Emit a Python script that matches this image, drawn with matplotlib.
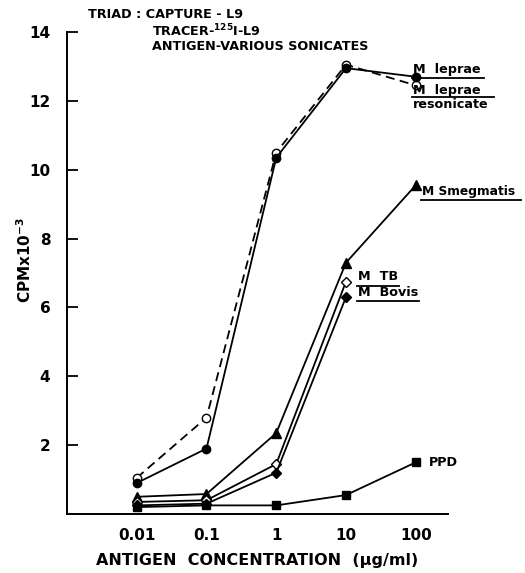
import matplotlib
matplotlib.use('Agg')
from matplotlib import pyplot as plt
from matplotlib.lines import Line2D

# antigen concentration (ug/ml)
conc = [0.01, 0.1, 1, 10, 100]
conc_tb = [0.01, 0.1, 1, 10]

leprae = [0.9, 1.9, 10.35, 12.95, 12.7]
leprae_reson = [1.05, 2.8, 10.5, 13.05, 12.45]
smegmatis = [0.5, 0.58, 2.35, 7.3, 9.55]
m_tb = [0.35, 0.4, 1.45, 6.75]
m_bovis = [0.25, 0.3, 1.2, 6.3]
ppd = [0.2, 0.25, 0.25, 0.55, 1.5]

yticks = [2, 4, 6, 8, 10, 12, 14]
xticks = [0.01, 0.1, 1, 10, 100]
xtick_labels = ['0.01', '0.1', '1', '10', '100']

W, H = 525, 573
plt.rcParams['font.family'] = ['DejaVu Sans']
plt.rcParams['font.weight'] = 'bold'
plt.rcParams['axes.labelweight'] = 'bold'

fig = plt.figure(figsize=(W / 100, H / 100), dpi=100)
ax = fig.add_axes([67 / W, 1 - 514 / H, (448 - 67) / W, (514 - 32) / H])


def px(x, y):
    return x / W, 1 - y / H


def uline(x0, x1, y):
    a, b = px(x0, y)
    c, _ = px(x1, y)
    fig.add_artist(Line2D([a, c], [b, b], transform=fig.transFigure, color='black', lw=1.3))


lw = 1.3
ax.plot(conc, leprae_reson, '--', color='black', lw=lw, marker='o', ms=6,
        mfc='white', mec='black', mew=1, dashes=(5, 3))
ax.plot(conc, leprae, '-', color='black', lw=lw, marker='o', ms=6)
ax.plot(conc, smegmatis, '-', color='black', lw=lw, marker='^', ms=6.5)
ax.plot(conc_tb, m_tb, '-', color='black', lw=lw, marker='D', ms=5,
        mfc='white', mec='black', mew=1)
ax.plot(conc_tb, m_bovis, '-', color='black', lw=lw, marker='D', ms=5)
ax.plot(conc, ppd, '-', color='black', lw=lw, marker='s', ms=6)

ax.set_xscale('log')
ax.set_xlim(0.001, 290)
ax.set_ylim(0, 14)
ax.set_xticks(xticks)
ax.set_xticklabels(xtick_labels)
ax.minorticks_off()
ax.set_yticks(yticks)
ax.tick_params(axis='x', length=0, pad=10, labelsize=11)
ax.tick_params(axis='y', direction='in', length=8, width=1.3, pad=12, labelsize=11)
for s in ['top', 'right']:
    ax.spines[s].set_visible(False)
for s in ['left', 'bottom']:
    ax.spines[s].set_linewidth(1.4)

ax.set_xlabel('ANTIGEN  CONCENTRATION  (\u00b5g/ml)', fontsize=11.5, labelpad=7)
fig.text(*px(25, 260), 'CPMx10$^{-3}$', rotation=90, ha='center', va='center', fontsize=11)

fs = 9.2
fig.text(*px(88, 15), 'TRIAD : CAPTURE - L9', fontsize=fs, va='center')
fig.text(*px(152, 31), 'TRACER-$^{125}$I-L9', fontsize=fs, va='center')
fig.text(*px(152, 47), 'ANTIGEN-VARIOUS SONICATES', fontsize=fs, va='center')

fig.text(*px(413, 70), 'M  leprae', fontsize=fs, va='center')
uline(412, 484, 78)
fig.text(*px(413, 90), 'M  leprae', fontsize=fs, va='center')
uline(412, 494, 97)
fig.text(*px(413, 105), 'resonicate', fontsize=fs, va='center')

fig.text(*px(422, 192), 'M Smegmatis', fontsize=8.8, va='center')
uline(421, 521, 200)

fig.text(*px(358, 277), 'M  TB', fontsize=fs, va='center')
uline(357, 399, 286)
fig.text(*px(358, 293), 'M  Bovis', fontsize=fs, va='center')
uline(357, 419, 301)

fig.text(*px(429, 463), 'PPD', fontsize=fs, va='center')

fig.savefig('out.png', dpi=100)
